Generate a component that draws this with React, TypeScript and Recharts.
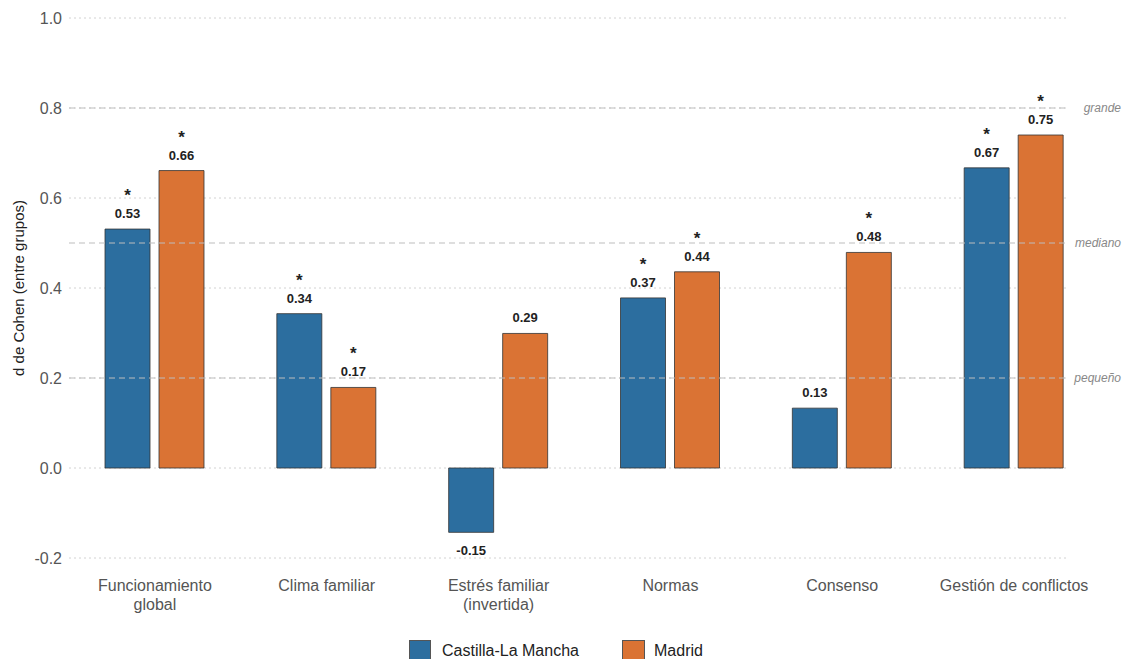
import React from 'react'
import { BarChart, Bar, XAxis, YAxis, CartesianGrid, ReferenceLine, LabelList } from 'recharts'

const categories = ['Funcionamiento\nglobal', 'Clima familiar', 'Estrés familiar\n(invertida)', 'Normas', 'Consenso', 'Gestión de conflictos']
const clmValues = [0.531, 0.343, -0.143, 0.378, 0.133, 0.667]
const madValues = [0.661, 0.179, 0.299, 0.436, 0.479, 0.74]
const clmLabels = ['0.53', '0.34', '-0.15', '0.37', '0.13', '0.67']
const madLabels = ['0.66', '0.17', '0.29', '0.44', '0.48', '0.75']
const clmSig = [true, true, false, true, false, true]
const madSig = [true, true, false, true, true, true]
const yTicks = [-0.2, 0, 0.2, 0.4, 0.6, 0.8, 1.0]
const thresholds = [0.2, 0.5, 0.8]
const thresholdLabels = ['pequeño', 'mediano', 'grande']

const BLUE = '#2C6E9F'
const ORANGE = '#DA7334'
const FONT = '"Liberation Sans", Arial, sans-serif'
const LINE_CUT = 32 // grid/ref lines stop short of the plot edge

const data = categories.map((name, i) => ({ name, clm: clmValues[i], mad: madValues[i] }))

const makeLabel = (labels: string[], sig: boolean[], values: number[]) => (props: any) => {
  const { x, y, width, height, index } = props
  const top = Math.min(y, y + height)
  const bottom = Math.max(y, y + height)
  const cx = x + width / 2
  if (values[index] < 0) {
    return (
      <text x={cx} y={bottom + 23} textAnchor="middle" fontFamily={FONT} fontSize={13} fontWeight="bold" fill="#222">
        {labels[index]}
      </text>
    )
  }
  return (
    <g>
      <text x={cx} y={top - 11} textAnchor="middle" fontFamily={FONT} fontSize={13} fontWeight="bold" fill="#222">
        {labels[index]}
      </text>
      {sig[index] && (
        <text x={cx} y={top - 28} textAnchor="middle" fontFamily={FONT} fontSize={17} fontWeight="bold" fill="#222">
          *
        </text>
      )}
    </g>
  )
}

const CategoryTick = (props: any) => {
  const { x, y, payload } = props
  const lines = String(payload.value).split('\n')
  return (
    <g>
      {lines.map((l, i) => (
        <text key={i} x={x} y={y + 33 + i * 19} textAnchor="middle" fontFamily={FONT} fontSize={16} fill="#555">
          {l}
        </text>
      ))}
    </g>
  )
}

export default function App() {
  return (
    <div style={{ position: 'absolute', left: 0, top: 0, width: 1124, height: 659, background: '#fff' }}>
      <BarChart width={1124} height={659} data={data} margin={{ top: 18, right: 24, left: 0, bottom: 61 }} barGap={9}>
        <CartesianGrid
          vertical={false}
          horizontal={(p: any) => (
            <line key={`h-${p.index ?? p.y1}`} x1={p.x1} y1={p.y1} x2={p.x2 - LINE_CUT} y2={p.y2} stroke="#d2d2d2" strokeWidth={1} strokeDasharray="2 3" />
          )}
        />
        <XAxis dataKey="name" axisLine={false} tickLine={false} tickSize={0} tickMargin={0} height={40} interval={0} tick={<CategoryTick />} />
        <YAxis
          type="number"
          domain={[-0.2, 1.0]}
          ticks={yTicks}
          width={69}
          axisLine={false}
          tickLine={false}
          tickSize={0}
          tickMargin={7}
          tickFormatter={(v: number) => v.toFixed(1)}
          tick={{ fill: '#555', fontSize: 16, fontFamily: FONT }}
          label={(p: any) => {
            const vb = p.viewBox || {}
            const cy = (vb.y ?? 18) + (vb.height ?? 540) / 2
            return (
              <text x={18} y={cy} transform={`rotate(-90, 18, ${cy})`} textAnchor="middle" dominantBaseline="central" fontFamily={FONT} fontSize={15} fill="#222">
                d de Cohen (entre grupos)
              </text>
            )
          }}
        />
        {thresholds.map((t, i) => (
          <ReferenceLine
            key={t}
            y={t}
            shape={(p: any) => (
              <line x1={p.x1} y1={p.y1} x2={p.x2 - LINE_CUT} y2={p.y2} stroke="#bdbdbd" strokeWidth={1} strokeDasharray="6 4" />
            )}
            label={(p: any) => {
              const vb = p.viewBox || {}
              return (
                <text x={(vb.x ?? 69) + (vb.width ?? 1031) + 21} y={(vb.y ?? 0) + 4} textAnchor="end" fontFamily={FONT} fontSize={12} fontStyle="italic" fill="#888">
                  {thresholdLabels[i]}
                </text>
              )
            }}
          />
        ))}
        <Bar dataKey="clm" fill={BLUE} stroke="#333" strokeWidth={0.8} barSize={45} isAnimationActive={false}>
          <LabelList dataKey="clm" content={makeLabel(clmLabels, clmSig, clmValues)} />
        </Bar>
        <Bar dataKey="mad" fill={ORANGE} stroke="#333" strokeWidth={0.8} barSize={45} isAnimationActive={false}>
          <LabelList dataKey="mad" content={makeLabel(madLabels, madSig, madValues)} />
        </Bar>
      </BarChart>
      <div style={{ position: 'absolute', top: 640, left: 0, width: 1124, fontFamily: FONT, fontSize: 16, color: '#222' }}>
        <div style={{ position: 'absolute', left: 409, top: 0, width: 22, height: 22, background: BLUE, border: '1px solid #555', boxSizing: 'border-box' }} />
        <div style={{ position: 'absolute', left: 442, top: 2, lineHeight: '18px' }}>Castilla-La Mancha</div>
        <div style={{ position: 'absolute', left: 622, top: 0, width: 23, height: 22, background: ORANGE, border: '1px solid #555', boxSizing: 'border-box' }} />
        <div style={{ position: 'absolute', left: 654, top: 2, lineHeight: '18px' }}>Madrid</div>
      </div>
    </div>
  )
}
